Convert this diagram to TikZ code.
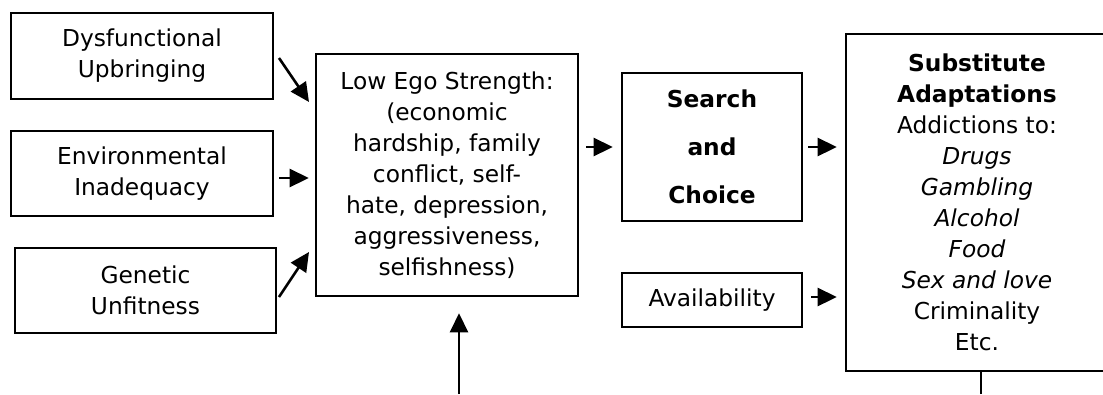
\documentclass[tikz,border=0pt]{standalone}
\usepackage{fontspec}
\setmainfont{DejaVu Sans}
\usetikzlibrary{arrows.meta}
\begin{document}
\begin{tikzpicture}[x=1pt,y=-1pt,
  box/.style={draw,line width=2.6pt,rectangle,inner sep=0pt,align=center,
    font=\fontsize{23.3}{31}\selectfont},
  arr/.style={line width=2.6pt,-{Triangle[length=19pt,width=18pt]}},
  plain/.style={line width=2.4pt}]
\useasboundingbox (0,0) rectangle (1103,394);
\node[box,minimum width=262pt,minimum height=86pt] (dys) at (142,56) {Dysfunctional\\Upbringing};
\node[box,minimum width=262pt,minimum height=85pt] (env) at (142,173.5) {Environmental\\Inadequacy};
\node[box,minimum width=261pt,minimum height=85pt] (gen) at (145.5,290.5) {Genetic\\Unfitness};
\node[box,minimum width=262pt,minimum height=242pt] (ego) at (447,175) {Low Ego Strength:\\(economic\\hardship, family\\conflict, self-\\hate, depression,\\aggressiveness,\\selfishness)};
\node[box,minimum width=180pt,minimum height=148pt,font=\fontsize{23.3}{48}\selectfont\bfseries] (search) at (712,147) {Search\\and\\Choice};
\node[box,minimum width=180pt,minimum height=54pt] (avail) at (712,300) {Availability};
\node[box,minimum width=262pt,minimum height=337pt] (subst) at (977,202.5) {\textbf{Substitute}\\\textbf{Adaptations}\\Addictions to:\\\textit{Drugs}\\\textit{Gambling}\\\textit{Alcohol}\\\textit{Food}\\\textit{Sex and love}\\Criminality\\Etc.};
% free ends
\coordinate (d1) at (279,58);
\coordinate (d2) at (309,102);
\coordinate (g1) at (279,297);
\coordinate (g2) at (309,252);
\coordinate (b1) at (459,394);
\coordinate (s1) at (981,394);
\coordinate (e1) at ([yshift=-4.5pt]env.east);
\coordinate (a1) at ([yshift=3pt]avail.east);
\draw[arr] (d1) -- (d2);
\draw[arr] (g1) -- (g2);
\draw[arr,shorten <=5pt,shorten >=6pt] (e1) -- (ego.west |- e1);
\draw[arr,shorten <=7pt,shorten >=8pt] (ego.east |- search.west) -- (search.west);
\draw[arr,shorten <=5pt,shorten >=8pt] (search.east) -- (subst.west |- search.east);
\draw[arr,shorten <=8pt,shorten >=8pt] (a1) -- (subst.west |- a1);
\draw[arr,shorten >=16pt] (b1) -- (b1 |- ego.south);
\draw[plain] (s1) -- (s1 |- subst.south);
\end{tikzpicture}
\end{document}
